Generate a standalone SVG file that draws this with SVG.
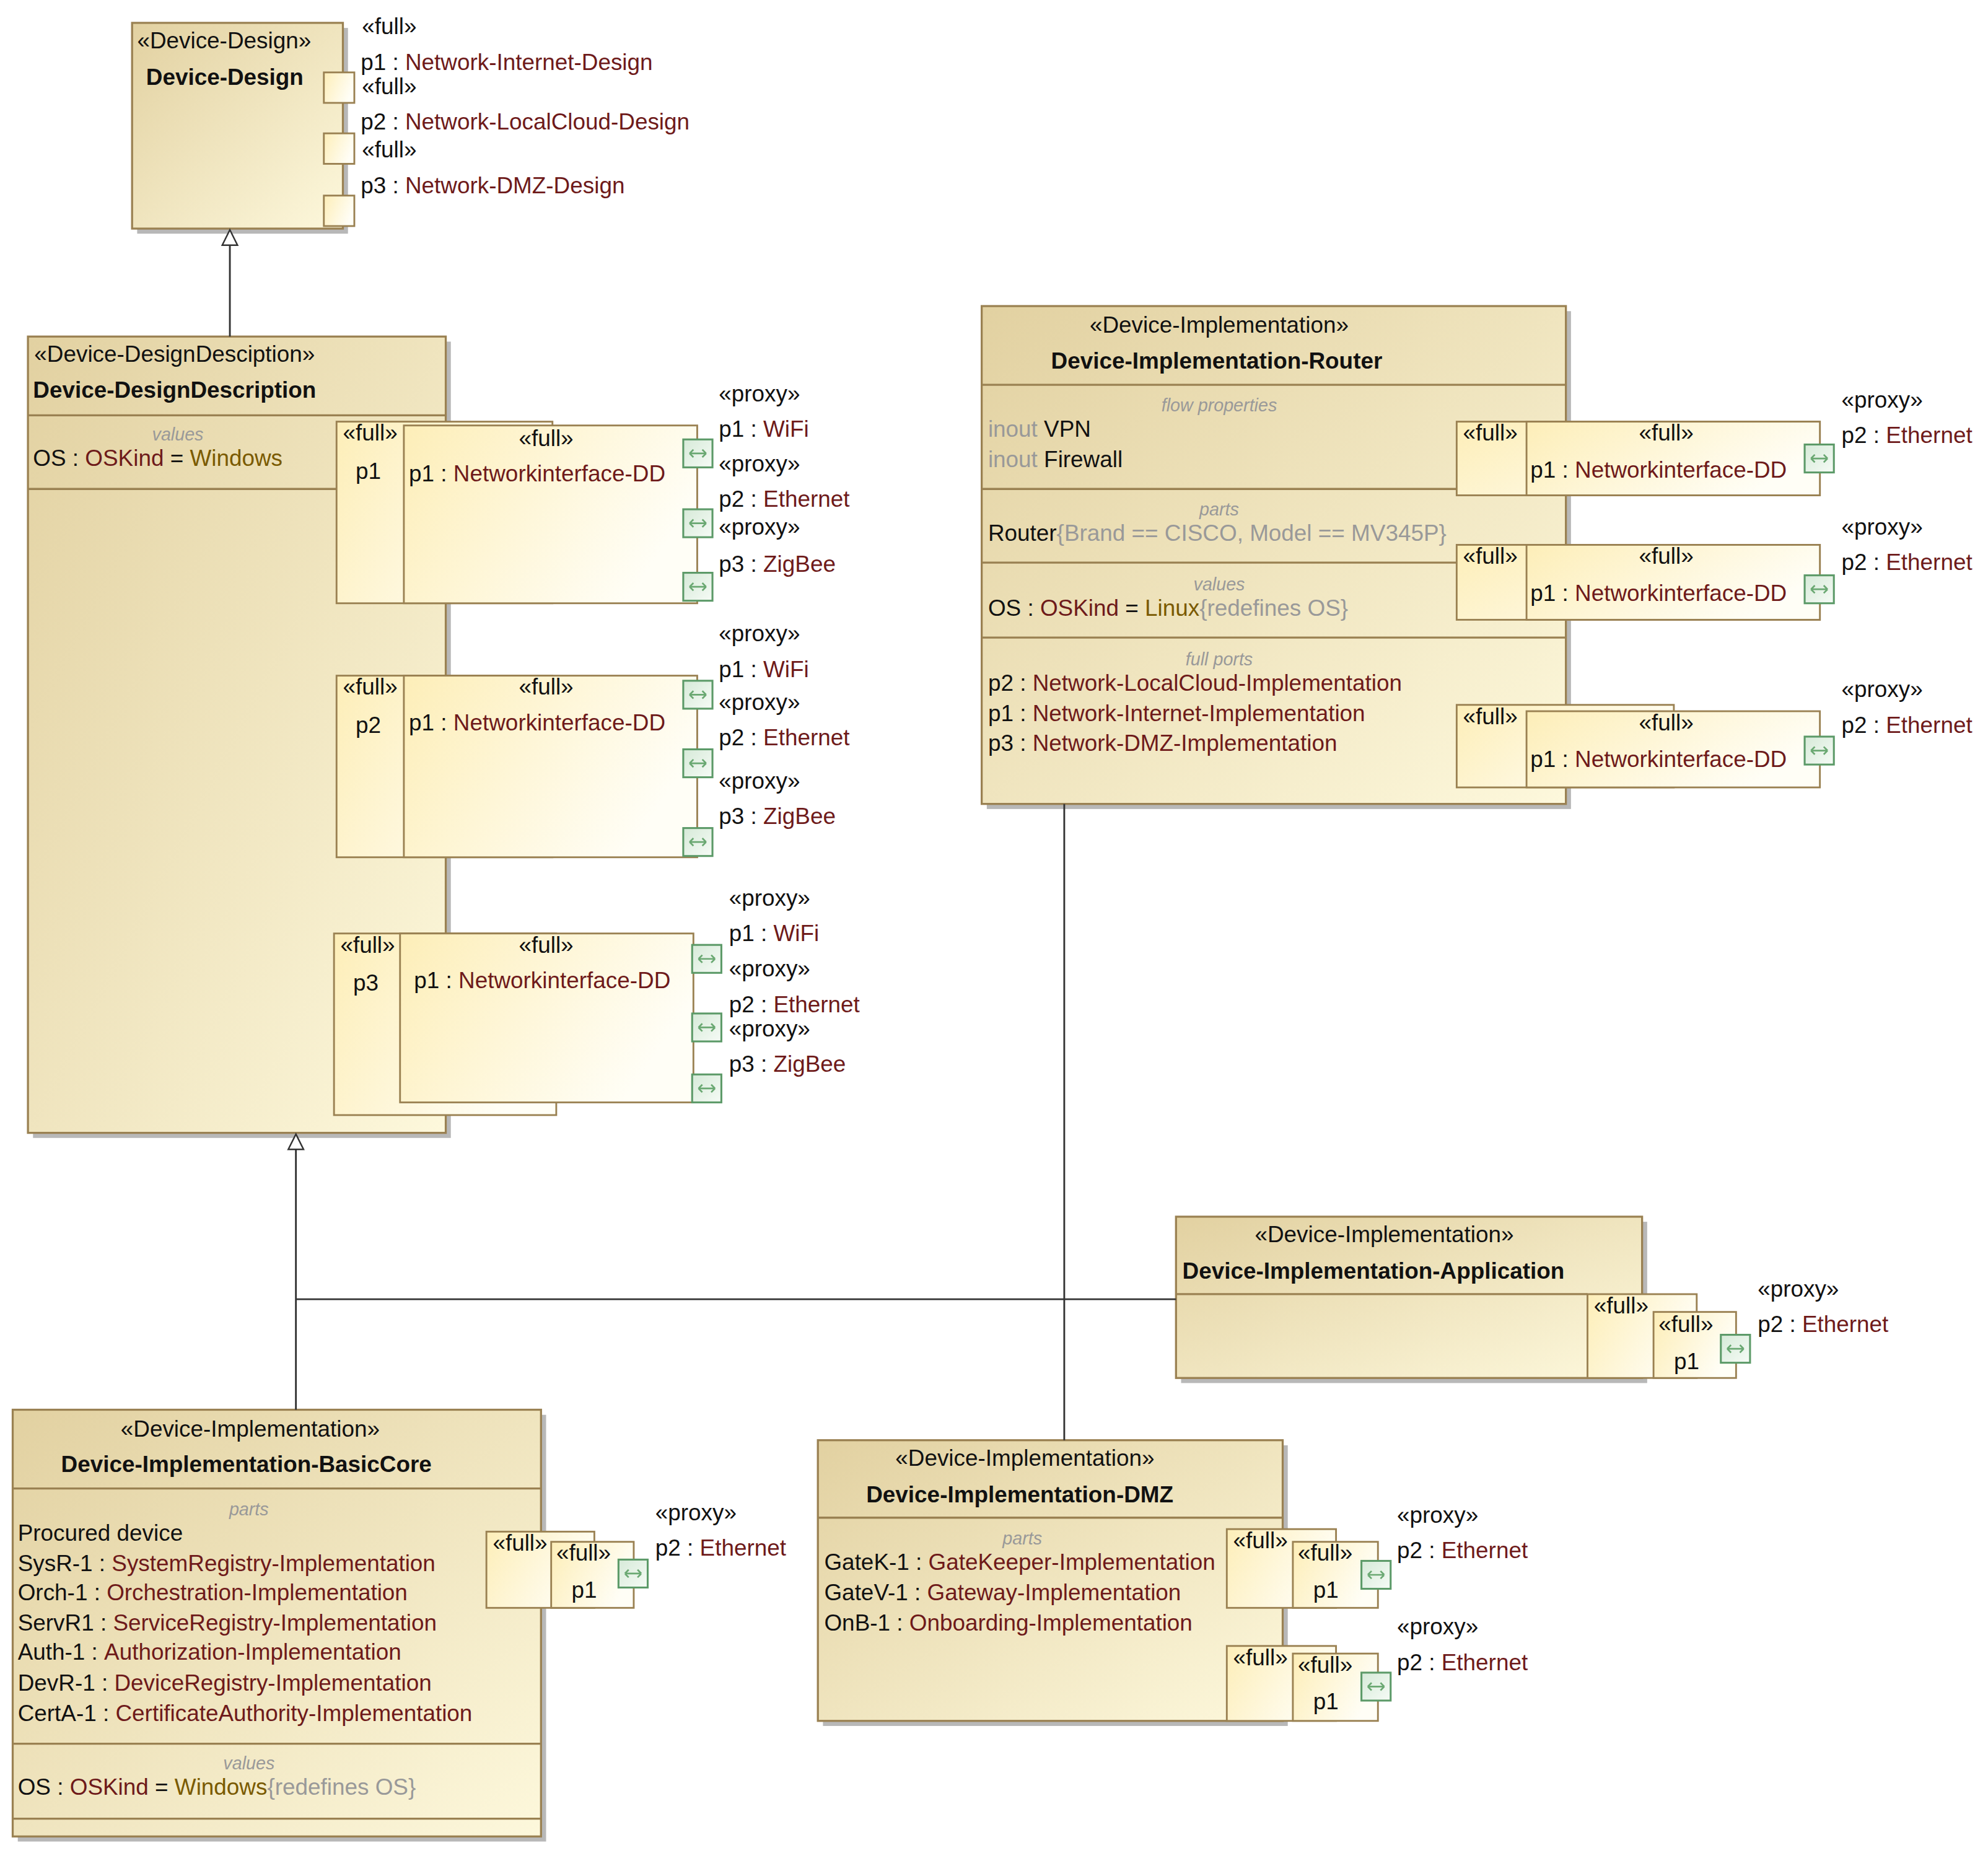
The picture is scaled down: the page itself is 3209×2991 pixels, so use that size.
<svg xmlns="http://www.w3.org/2000/svg" width="3209" height="2991" viewBox="0 0 3209 2991">
<defs>
<linearGradient id="gb" x1="0" y1="0" x2="1" y2="1"><stop offset="0" stop-color="#e2d1a1"/><stop offset="1" stop-color="#fdf8dc"/></linearGradient>
<linearGradient id="gp" x1="0" y1="0" x2="1" y2="0.4"><stop offset="0" stop-color="#fdeeb8"/><stop offset="1" stop-color="#fffef6"/></linearGradient>
<linearGradient id="gg" x1="0" y1="0" x2="1" y2="1"><stop offset="0" stop-color="#d6ead8"/><stop offset="1" stop-color="#f6fbf6"/></linearGradient>
<marker id="tri" viewBox="0 0 14 14" refX="7" refY="0" markerWidth="14" markerHeight="14" markerUnits="userSpaceOnUse" orient="auto"><path d="M1,0 L7,12 L13,0" transform="rotate(180 7 6)" fill="#fff" stroke="#333" stroke-width="1.2"/></marker>
<g id="gport"><rect x="0" y="0" width="23" height="22" fill="url(#gg)" stroke="#5c9a68" stroke-width="1.5"/><path d="M5,11 L18,11 M5,11 L8,8 M5,11 L8,14 M18,11 L15,8 M18,11 L15,14" stroke="#6aa872" stroke-width="1.3" fill="none"/></g>
</defs>
<style>
text{font-family:"Liberation Sans",Arial,sans-serif;font-size:18px;fill:#111}
.b{font-weight:bold}
.h{fill:#999;font-style:italic;font-size:14px}
.t{fill:#6e1a1a}
.v{fill:#7a5a00}
.g{fill:#999}
.m{text-anchor:middle}
.box{fill:url(#gb);stroke:#9a8152;stroke-width:1.6}
.sh{fill:#b8b8b8}
.part{fill:url(#gp);stroke:#9a8152;stroke-width:1.4}
.sep{stroke:#9a8152;stroke-width:1.6}
.fp{fill:url(#gp);stroke:#9a8152;stroke-width:1.4}
.con{fill:none;stroke:#333;stroke-width:1.4}
</style>
<rect width="3209" height="2991" fill="#fff"/>
<g transform="scale(2.05)">

<g id="device-design">
<rect class="sh" x="108" y="22" width="166" height="162"/>
<rect class="box" x="104" y="18" width="166" height="162"/>
<text x="108" y="38">«Device-Design»</text>
<text x="115" y="67" class="b">Device-Design</text>
<rect class="fp" x="255" y="57" width="24" height="24"/>
<rect class="fp" x="255" y="105" width="24" height="24"/>
<rect class="fp" x="255" y="154" width="24" height="24"/>
<text x="285" y="27">«full»</text>
<text x="284" y="55">p1 : <tspan class="t">Network-Internet-Design</tspan></text>
<text x="285" y="74">«full»</text>
<text x="284" y="102">p2 : <tspan class="t">Network-LocalCloud-Design</tspan></text>
<text x="285" y="124">«full»</text>
<text x="284" y="152">p3 : <tspan class="t">Network-DMZ-Design</tspan></text>
</g>

<g id="device-designdescription">
<rect class="sh" x="26" y="269" width="329" height="627"/>
<rect class="box" x="22" y="265" width="329" height="627"/>
<text x="27" y="285">«Device-DesignDesciption»</text>
<text x="26" y="313" class="b">Device-DesignDescription</text>
<line class="sep" x1="22" y1="327" x2="351" y2="327"/>
<text x="140" y="347" class="h m">values</text>
<text x="26" y="367">OS : <tspan class="t">OSKind</tspan> = <tspan class="v">Windows</tspan></text>
<line class="sep" x1="22" y1="385" x2="265" y2="385"/>
<rect class="part" x="265" y="332" width="170" height="143"/>
<rect class="part" x="318" y="335" width="231" height="140"/>
<text x="270" y="347">«full»</text><text x="280" y="377">p1</text>
<text x="430" y="351" class="m">«full»</text>
<text x="322" y="379">p1 : <tspan class="t">Networkinterface-DD</tspan></text>
<use href="#gport" x="538" y="346"/><use href="#gport" x="538" y="401"/><use href="#gport" x="538" y="451"/>
<text x="566" y="316">«proxy»</text><text x="566" y="344">p1 : <tspan class="t">WiFi</tspan></text>
<text x="566" y="371">«proxy»</text><text x="566" y="399">p2 : <tspan class="t">Ethernet</tspan></text>
<text x="566" y="421">«proxy»</text><text x="566" y="450">p3 : <tspan class="t">ZigBee</tspan></text>
<rect class="part" x="265" y="532" width="170" height="143"/>
<rect class="part" x="318" y="532" width="231" height="143"/>
<text x="270" y="547">«full»</text><text x="280" y="577">p2</text>
<text x="430" y="547" class="m">«full»</text>
<text x="322" y="575">p1 : <tspan class="t">Networkinterface-DD</tspan></text>
<use href="#gport" x="538" y="536"/><use href="#gport" x="538" y="590"/><use href="#gport" x="538" y="652"/>
<text x="566" y="505">«proxy»</text><text x="566" y="533">p1 : <tspan class="t">WiFi</tspan></text>
<text x="566" y="559">«proxy»</text><text x="566" y="587">p2 : <tspan class="t">Ethernet</tspan></text>
<text x="566" y="621">«proxy»</text><text x="566" y="649">p3 : <tspan class="t">ZigBee</tspan></text>
<rect class="part" x="263" y="735" width="175" height="143"/>
<rect class="part" x="315" y="735" width="231" height="133"/>
<text x="268" y="750">«full»</text><text x="278" y="780">p3</text>
<text x="430" y="750" class="m">«full»</text>
<text x="326" y="778">p1 : <tspan class="t">Networkinterface-DD</tspan></text>
<use href="#gport" x="545" y="744"/><use href="#gport" x="545" y="798"/><use href="#gport" x="545" y="846"/>
<text x="574" y="713">«proxy»</text><text x="574" y="741">p1 : <tspan class="t">WiFi</tspan></text>
<text x="574" y="769">«proxy»</text><text x="574" y="797">p2 : <tspan class="t">Ethernet</tspan></text>
<text x="574" y="816">«proxy»</text><text x="574" y="844">p3 : <tspan class="t">ZigBee</tspan></text>
</g>

<g id="device-implementation-router">
<rect class="sh" x="777" y="245" width="460" height="392"/>
<rect class="box" x="773" y="241" width="460" height="392"/>
<text x="960" y="262" class="m">«Device-Implementation»</text>
<text x="958" y="290" class="b m">Device-Implementation-Router</text>
<line class="sep" x1="773" y1="303" x2="1233" y2="303"/>
<text x="960" y="324" class="h m">flow properties</text>
<text x="778" y="344"><tspan class="g">inout</tspan> VPN</text>
<text x="778" y="368"><tspan class="g">inout</tspan> Firewall</text>
<line class="sep" x1="773" y1="385" x2="1147" y2="385"/>
<text x="960" y="406" class="h m">parts</text>
<text x="778" y="426">Router<tspan class="g">{Brand == CISCO, Model == MV345P}</tspan></text>
<line class="sep" x1="773" y1="443" x2="1147" y2="443"/>
<text x="960" y="465" class="h m">values</text>
<text x="778" y="485">OS : <tspan class="t">OSKind</tspan> = <tspan class="v">Linux</tspan><tspan class="g">{redefines OS}</tspan></text>
<line class="sep" x1="773" y1="502" x2="1233" y2="502"/>
<text x="960" y="524" class="h m">full ports</text>
<text x="778" y="544">p2 : <tspan class="t">Network-LocalCloud-Implementation</tspan></text>
<text x="778" y="568">p1 : <tspan class="t">Network-Internet-Implementation</tspan></text>
<text x="778" y="591">p3 : <tspan class="t">Network-DMZ-Implementation</tspan></text>
<rect class="part" x="1147" y="332" width="286" height="58"/>
<rect class="part" x="1202" y="332" width="231" height="58"/>
<text x="1152" y="347">«full»</text><text x="1312" y="347" class="m">«full»</text>
<text x="1205" y="376">p1 : <tspan class="t">Networkinterface-DD</tspan></text>
<use href="#gport" x="1421" y="350"/>
<text x="1450" y="321">«proxy»</text><text x="1450" y="349">p2 : <tspan class="t">Ethernet</tspan></text>
<rect class="part" x="1147" y="429" width="286" height="59"/>
<rect class="part" x="1202" y="429" width="231" height="59"/>
<text x="1152" y="444">«full»</text><text x="1312" y="444" class="m">«full»</text>
<text x="1205" y="473">p1 : <tspan class="t">Networkinterface-DD</tspan></text>
<use href="#gport" x="1421" y="453"/>
<text x="1450" y="421">«proxy»</text><text x="1450" y="449">p2 : <tspan class="t">Ethernet</tspan></text>
<rect class="part" x="1147" y="555" width="171" height="65"/>
<rect class="part" x="1202" y="560" width="231" height="60"/>
<text x="1152" y="570">«full»</text><text x="1312" y="575" class="m">«full»</text>
<text x="1205" y="604">p1 : <tspan class="t">Networkinterface-DD</tspan></text>
<use href="#gport" x="1421" y="580"/>
<text x="1450" y="549">«proxy»</text><text x="1450" y="577">p2 : <tspan class="t">Ethernet</tspan></text>
</g>

<g id="device-implementation-application">
<rect class="sh" x="930" y="962" width="367" height="127"/>
<rect class="box" x="926" y="958" width="367" height="127"/>
<text x="1090" y="978" class="m">«Device-Implementation»</text>
<text x="931" y="1007" class="b">Device-Implementation-Application</text>
<line class="sep" x1="926" y1="1019" x2="1250" y2="1019"/>
<rect class="part" x="1250" y="1019" width="86" height="66"/>
<rect class="part" x="1302" y="1033" width="65" height="52"/>
<text x="1255" y="1034">«full»</text><text x="1306" y="1049">«full»</text><text x="1318" y="1078">p1</text>
<use href="#gport" x="1355" y="1051"/>
<text x="1384" y="1021">«proxy»</text><text x="1384" y="1049">p2 : <tspan class="t">Ethernet</tspan></text>
</g>

<g id="device-implementation-basiccore">
<rect class="sh" x="14" y="1114" width="416" height="336"/>
<rect class="box" x="10" y="1110" width="416" height="336"/>
<text x="197" y="1131" class="m">«Device-Implementation»</text>
<text x="194" y="1159" class="b m">Device-Implementation-BasicCore</text>
<line class="sep" x1="10" y1="1172" x2="426" y2="1172"/>
<text x="196" y="1193" class="h m">parts</text>
<text x="14" y="1213">Procured device</text>
<text x="14" y="1237">SysR-1 : <tspan class="t">SystemRegistry-Implementation</tspan></text>
<text x="14" y="1260">Orch-1 : <tspan class="t">Orchestration-Implementation</tspan></text>
<text x="14" y="1284">ServR1 : <tspan class="t">ServiceRegistry-Implementation</tspan></text>
<text x="14" y="1307">Auth-1 : <tspan class="t">Authorization-Implementation</tspan></text>
<text x="14" y="1331">DevR-1 : <tspan class="t">DeviceRegistry-Implementation</tspan></text>
<text x="14" y="1355">CertA-1 : <tspan class="t">CertificateAuthority-Implementation</tspan></text>
<line class="sep" x1="10" y1="1373" x2="426" y2="1373"/>
<text x="196" y="1393" class="h m">values</text>
<text x="14" y="1413">OS : <tspan class="t">OSKind</tspan> = <tspan class="v">Windows</tspan><tspan class="g">{redefines OS}</tspan></text>
<line class="sep" x1="10" y1="1432" x2="426" y2="1432"/>
<rect class="part" x="383" y="1206" width="85" height="60"/>
<rect class="part" x="434" y="1214" width="65" height="52"/>
<text x="388" y="1221">«full»</text><text x="438" y="1229">«full»</text><text x="450" y="1258">p1</text>
<use href="#gport" x="487" y="1228"/>
<text x="516" y="1197">«proxy»</text><text x="516" y="1225">p2 : <tspan class="t">Ethernet</tspan></text>
</g>

<g id="device-implementation-dmz">
<rect class="sh" x="648" y="1138" width="366" height="221"/>
<rect class="box" x="644" y="1134" width="366" height="221"/>
<text x="807" y="1154" class="m">«Device-Implementation»</text>
<text x="803" y="1183" class="b m">Device-Implementation-DMZ</text>
<line class="sep" x1="644" y1="1195" x2="1010" y2="1195"/>
<text x="805" y="1216" class="h m">parts</text>
<text x="649" y="1236">GateK-1 : <tspan class="t">GateKeeper-Implementation</tspan></text>
<text x="649" y="1260">GateV-1 : <tspan class="t">Gateway-Implementation</tspan></text>
<text x="649" y="1284">OnB-1 : <tspan class="t">Onboarding-Implementation</tspan></text>
<rect class="part" x="966" y="1204" width="86" height="62"/>
<rect class="part" x="1018" y="1214" width="67" height="52"/>
<text x="971" y="1219">«full»</text><text x="1022" y="1229">«full»</text><text x="1034" y="1258">p1</text>
<use href="#gport" x="1072" y="1229"/>
<text x="1100" y="1199">«proxy»</text><text x="1100" y="1227">p2 : <tspan class="t">Ethernet</tspan></text>
<rect class="part" x="966" y="1296" width="86" height="59"/>
<rect class="part" x="1018" y="1302" width="67" height="53"/>
<text x="971" y="1311">«full»</text><text x="1022" y="1317">«full»</text><text x="1034" y="1346">p1</text>
<use href="#gport" x="1072" y="1317"/>
<text x="1100" y="1287">«proxy»</text><text x="1100" y="1315">p2 : <tspan class="t">Ethernet</tspan></text>
</g>

<g id="connectors">
<line class="con" x1="181" y1="265" x2="181" y2="193"/>
<path d="M181,181 L187,193 L175,193 Z" fill="#fff" stroke="#333" stroke-width="1.2"/>
<line class="con" x1="233" y1="1110" x2="233" y2="905"/>
<path d="M233,893 L239,905 L227,905 Z" fill="#fff" stroke="#333" stroke-width="1.2"/>
<polyline class="con" points="233,1023 926,1023"/>
<polyline class="con" points="838,633 838,1134"/>
</g>
</g>
</svg>
